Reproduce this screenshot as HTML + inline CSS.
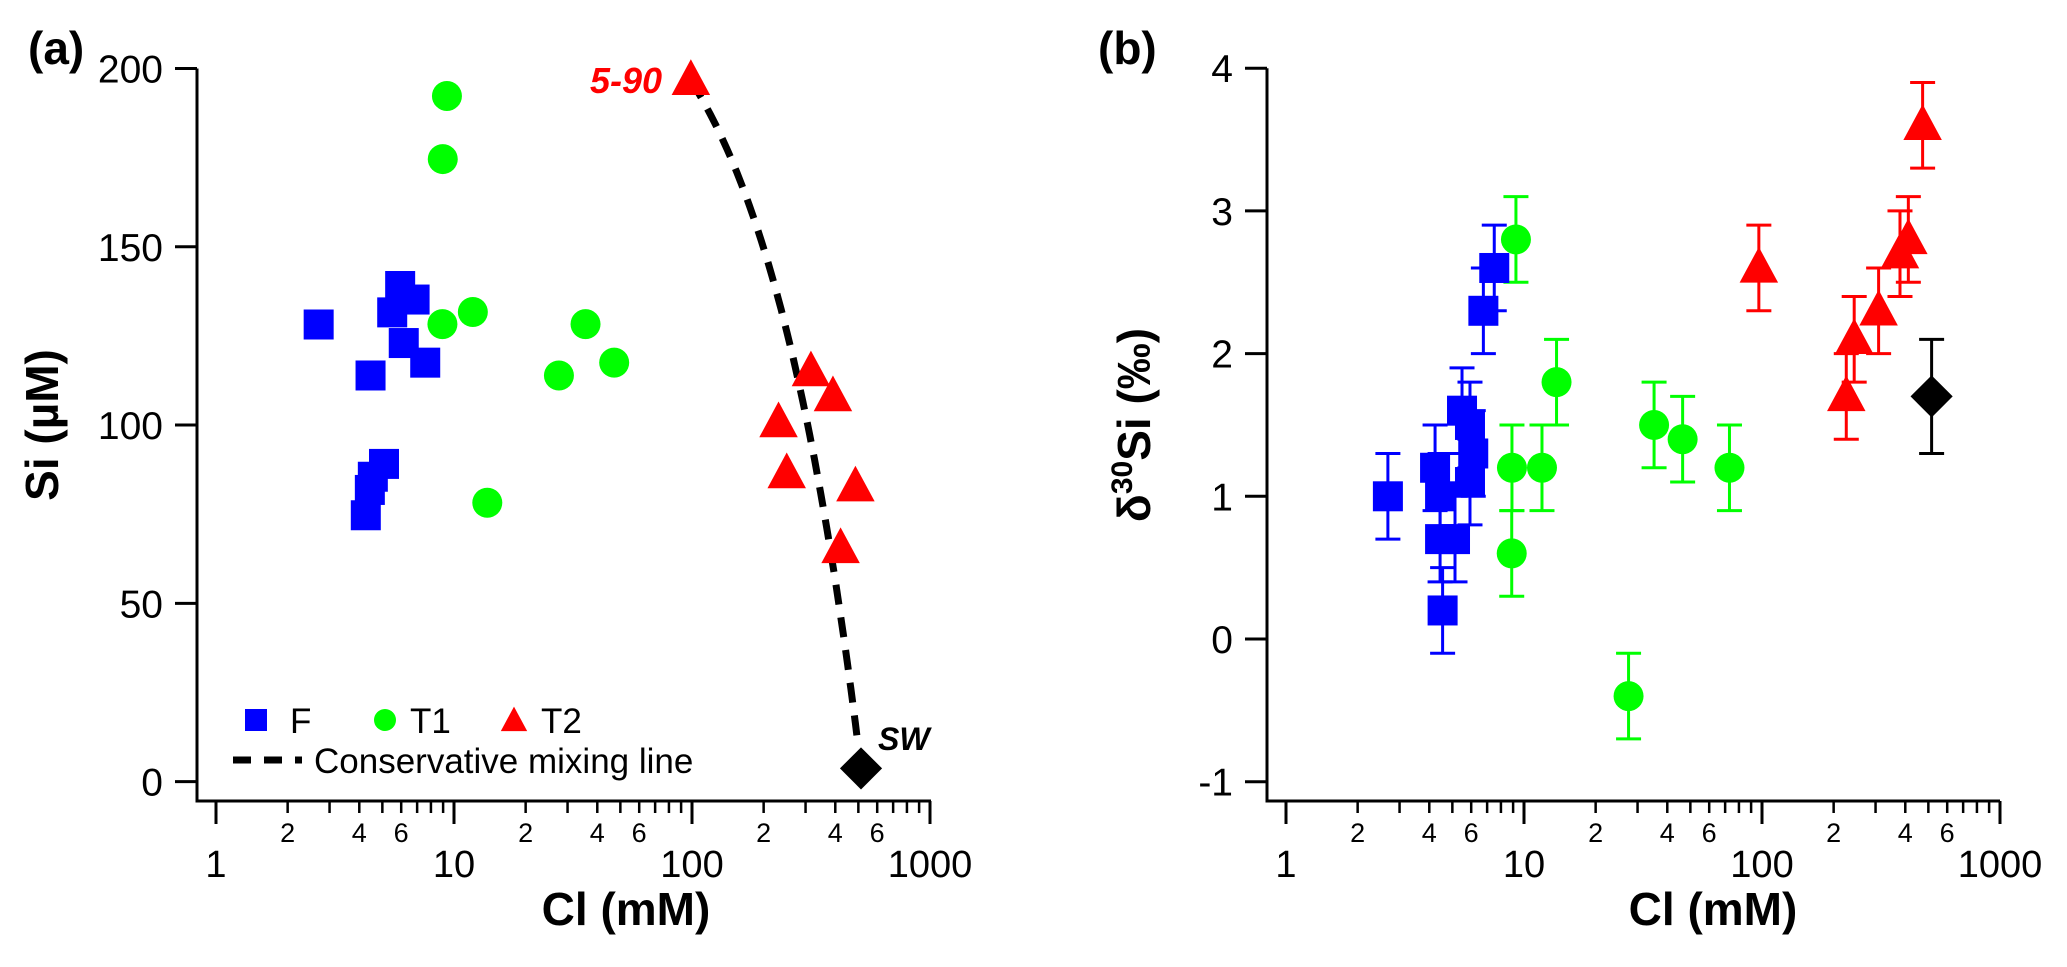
<!DOCTYPE html>
<html><head><meta charset="utf-8">
<style>
html,body{margin:0;padding:0;background:#fff;}
svg{display:block;font-family:"Liberation Sans",Arial,sans-serif;}
</style></head>
<body>
<svg id="chart" width="2067" height="967" viewBox="0 0 2067 967" xmlns="http://www.w3.org/2000/svg">
<text x="28" y="64" font-size="46" font-weight="bold">(a)</text>
<text x="1098" y="64" font-size="46" font-weight="bold">(b)</text>
<text transform="translate(58,425) rotate(-90)" text-anchor="middle" font-size="46" font-weight="bold">Si (µM)</text>
<text x="626" y="925" text-anchor="middle" font-size="46" font-weight="bold">Cl (mM)</text>
<text x="1713" y="925" text-anchor="middle" font-size="46" font-weight="bold">Cl (mM)</text>
<text transform="translate(1150,425) rotate(-90)" text-anchor="middle" font-size="46" font-weight="bold">δ<tspan dy="-18" font-size="30">30</tspan><tspan dy="18">Si (‰)</tspan></text>
<g id="pa"></g>
<g id="pb"></g>
<g id="legend"></g>
</svg>
<script>
// ---- Panel (a) data ----
const aFCl = [2.70, 5.94, 6.83, 5.50, 6.15, 7.57, 4.46, 5.08, 4.56, 4.26, 4.43];
const aFSi = [128.2, 139, 135.2, 131.6, 123, 117.5, 113.9, 89.1, 85.5, 74.7, 81.8];
const aT1Cl = [9.34, 8.97, 8.94, 12.0, 35.7, 27.6, 47.1, 13.8];
const aT1Si = [192.3, 174.6, 128.3, 131.7, 128.3, 113.9, 117.5, 78.2];
const aT2Cl = [98.9, 316, 391, 231, 250, 486, 421];
const aT2Si = [196.7, 115, 108, 100.7, 86.4, 82.7, 65.4];
const aSWCl = [513];
const aSWSi = [3.7];
const aYTicks = [0, 50, 100, 150, 200];
// ---- Panel (b) data ----
const bFCl = [7.5, 6.75, 2.68, 4.23, 4.44, 5.49, 5.93, 6.12, 5.93, 4.44, 5.13, 4.55];
const bFD = [2.6, 2.3, 1.0, 1.2, 1.0, 1.6, 1.5, 1.3, 1.1, 0.7, 0.7, 0.2];
const bFErr = [0.3, 0.3, 0.3, 0.3, 0.3, 0.3, 0.3, 0.3, 0.3, 0.3, 0.3, 0.3];
const bT1Cl = [9.25, 13.7, 8.9, 11.9, 8.88, 35.2, 46.4, 73, 27.5];
const bT1D = [2.8, 1.8, 1.2, 1.2, 0.6, 1.5, 1.4, 1.2, -0.4];
const bT1Err = [0.3, 0.3, 0.3, 0.3, 0.3, 0.3, 0.3, 0.3, 0.3];
const bT2Cl = [97, 473, 412, 380, 309, 244, 226];
const bT2D = [2.6, 3.6, 2.8, 2.7, 2.3, 2.1, 1.7];
const bT2Err = [0.3, 0.3, 0.3, 0.3, 0.3, 0.3, 0.3];
const bSWCl = [516];
const bSWD = [1.7];
const bSWErr = [0.4];
const bYTicks = [-1, 0, 1, 2, 3, 4];
const xMajor = [1, 10, 100, 1000];
const xMinorLabels = [2, 4, 6];

const NS = "http://www.w3.org/2000/svg";
function mk(tag, attrs, parent){
  const e = document.createElementNS(NS, tag);
  for (const k in attrs) e.setAttribute(k, attrs[k]);
  parent.appendChild(e);
  return e;
}
const BLUE="#0000ff", GREEN="#00ff00", RED="#ff0000";
function makeX(x0){ return v => x0 + 238*Math.log10(v); }
const xa = makeX(216), xb = makeX(1286);
const ya = v => 781.6 - v*(781.6-68.5)/200;
const yb = v => 639 - v*142.7;

function drawAxes(g, xf, axL, axR, yf, yTicks, name){
  const axisY = 801;
  let l = mk("line",{x1:axL,y1:axisY,x2:axR,y2:axisY,stroke:"#000","stroke-width":3},g);
  
  
  l = mk("line",{x1:axL,y1:yf(yTicks[yTicks.length-1]),x2:axL,y2:axisY+1.5,stroke:"#000","stroke-width":3},g);
  
  
  for (const t of yTicks){
    const y = yf(t);
    const tk = mk("line",{x1:axL-22,y1:y,x2:axL,y2:y,stroke:"#000","stroke-width":3},g);
    
    
    const tx = mk("text",{x:axL-34,y:y+14,"text-anchor":"end","font-size":39},g);
    tx.textContent = String(t);
    
    
  }
  for (let d=0; d<3; d++){
    const base = xMajor[d];
    for (let m=2; m<=9; m++){
      const x = xf(base*m);
      const tk = mk("line",{x1:x,y1:axisY,x2:x,y2:axisY+12,stroke:"#000","stroke-width":2.5},g);
      
      
    }
    for (const m of xMinorLabels){
      const tx = mk("text",{x:xf(base*m),y:842,"text-anchor":"middle","font-size":27},g);
      tx.textContent = String(m);
      
      
    }
  }
  for (const v of xMajor){
    const x = xf(v);
    const tk = mk("line",{x1:x,y1:axisY,x2:x,y2:axisY+23,stroke:"#000","stroke-width":3},g);
    
    
    const tx = mk("text",{x:x,y:877,"text-anchor":"middle","font-size":38},g);
    tx.textContent = String(v);
    
    
  }
}
function marker(g, kind, x, y, color, s){
  let e;
  if (kind==="square") e = mk("rect",{x:x-s/2,y:y-s/2,width:s,height:s,fill:color},g);
  else if (kind==="circle") e = mk("circle",{cx:x,cy:y,r:s/2,fill:color},g);
  else if (kind==="triangle") e = mk("polygon",{points:`${x},${y-s*0.6} ${x-s*0.55},${y+s*0.42} ${x+s*0.55},${y+s*0.42}`,fill:color},g);
  else e = mk("polygon",{points:`${x},${y-s*0.62} ${x+s*0.62},${y} ${x},${y+s*0.62} ${x-s*0.62},${y}`,fill:color},g);
  return e;
}
function errbar(g, x, y1, y2, color){
  const e = mk("g",{stroke:color,"stroke-width":3},g);
  mk("line",{x1:x,y1:y1,x2:x,y2:y2},e);
  mk("line",{x1:x-12.5,y1:y1,x2:x+12.5,y2:y1},e);
  mk("line",{x1:x-12.5,y1:y2,x2:x+12.5,y2:y2},e);
  return e;
}

const pa = document.getElementById("pa");
drawAxes(pa, xa, 197, 931, ya, aYTicks, "panel-a");
{
  const pts=[];
  for (let i=0;i<=60;i++){
    const f=i/60;
    const c=aT2Cl[0]*(1-f)+aSWCl[0]*f, s=aT2Si[0]*(1-f)+aSWSi[0]*f;
    if (s<10) break;
    pts.push(xa(c).toFixed(1)+","+ya(s).toFixed(1));
  }
  const pl = mk("polyline",{points:pts.join(" "),fill:"none",stroke:"#000","stroke-width":7,"stroke-dasharray":"20 13"},pa);
  
  
}
function scatter(g, cl, v, xf, yf, kind, color, size, name){
  for (let i=0;i<cl.length;i++){
    const m = marker(g, kind, xf(cl[i]), yf(v[i]), color, size);
    
    
  }
}
scatter(pa, aFCl, aFSi, xa, ya, "square", BLUE, 30, 'point-f');
scatter(pa, aT1Cl, aT1Si, xa, ya, "circle", GREEN, 30, 'point-t1');
scatter(pa, aT2Cl, aT2Si, xa, ya, "triangle", RED, 35, 'point-t2');
scatter(pa, aSWCl, aSWSi, xa, ya, "diamond", "#000", 34, 'point-sw');
{
  let t = mk("text",{x:662,y:93,"text-anchor":"end","font-size":36,"font-weight":"bold","font-style":"italic",fill:RED},pa);
  t.textContent="5-90";
  
  
  t = mk("text",{x:878,y:750,"font-size":32,"font-weight":"bold","font-style":"italic",fill:"#000"},pa);
  t.textContent="SW";
  
  
}

const pb = document.getElementById("pb");
drawAxes(pb, xb, 1267, 2000, yb, bYTicks, "panel-b");
function errScatter(g, cl, v, err, kind, color, size, name){
  for (let i=0;i<cl.length;i++){
    const x = xb(cl[i]);
    const eb = errbar(g, x, yb(v[i]+err[i]), yb(v[i]-err[i]), color);
    
    
  }
  for (let i=0;i<cl.length;i++){
    const m = marker(g, kind, xb(cl[i]), yb(v[i]), color, size);
    
    
  }
}
errScatter(pb, bT1Cl, bT1D, bT1Err, "circle", GREEN, 30, 'point-t1');
errScatter(pb, bFCl, bFD, bFErr, "square", BLUE, 30, 'point-f');
errScatter(pb, bT2Cl, bT2D, bT2Err, "triangle", RED, 35, 'point-t2');
errScatter(pb, bSWCl, bSWD, bSWErr, "diamond", "#000", 34, 'point-sw');

const lg = document.getElementById("legend");
{
  let m = marker(lg,"square",256,720,BLUE,22);
  
  
  m = marker(lg,"circle",385,720,GREEN,22);
  
  
  m = marker(lg,"triangle",514,721,RED,24);
  
  
  const labels=[["F",290],["T1",410],["T2",541]];
  for (const [s,x] of labels){
    const t = mk("text",{x:x,y:733,"font-size":35},lg);
    t.textContent=s;
    
    
  }
  const dl = mk("line",{x1:233,y1:760,x2:302,y2:760,stroke:"#000","stroke-width":7,"stroke-dasharray":"18 13"},lg);
  
  
  const t = mk("text",{x:314,y:773,"font-size":35},lg);
  t.textContent="Conservative mixing line";
  
  
}
</script>
</body></html>
